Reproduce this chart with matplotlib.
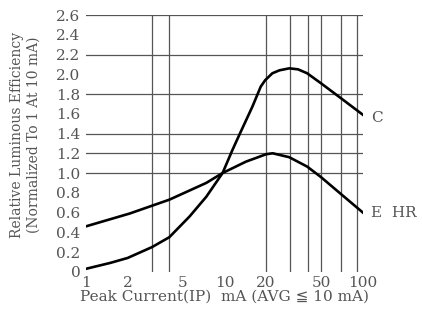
import matplotlib
matplotlib.use("Agg")
import matplotlib.pyplot as plt

# readings
c_x = [1, 1.5, 2, 3, 4, 5.6, 7.4, 9.7, 11.4, 12.8, 15.9, 18.3, 19.7, 22.2, 25, 29.4, 34, 39.6, 49.7, 69.1, 100]
c_y = [0.03, 0.09, 0.14, 0.25, 0.35, 0.56, 0.76, 1.0, 1.23, 1.385, 1.67, 1.875, 1.94, 2.01, 2.04, 2.06, 2.05, 2.01, 1.91, 1.76, 1.59]

hr_x = [1, 2.07, 4, 7.4, 9.7, 14.3, 20, 22.3, 29.4, 39.6, 49.7, 69.1, 100]
hr_y = [0.46, 0.59, 0.73, 0.90, 1.0, 1.115, 1.19, 1.2, 1.16, 1.065, 0.96, 0.79, 0.60]

x_ticks = [1, 2, 5, 10, 20, 50, 100]
y_ticks = [0, 0.2, 0.4, 0.6, 0.8, 1.0, 1.2, 1.4, 1.6, 1.8, 2.0, 2.2, 2.4, 2.6]
h_grid = [1.0, 1.2, 1.4, 1.8, 2.2, 2.6]
v_grid = [3, 4, 20, 30, 40, 50, 70, 90]

txt = "#555555"
grid = "#555555"
plt.rcParams['font.family'] = ['DejaVu Serif', 'DejaVu Sans']

fig = plt.figure(figsize=(4.22, 3.14), dpi=100)
ax = fig.add_axes([0.2038, 0.1345, 0.656, 0.8177])

for v in h_grid:
    ax.axhline(v, color=grid, lw=0.9, zorder=1)
for v in v_grid:
    ax.axvline(v, color=grid, lw=0.9, zorder=1)

ax.plot(c_x, c_y, color="black", lw=1.9, zorder=3)
ax.plot(hr_x, hr_y, color="black", lw=1.9, zorder=3)

ax.set_xscale("log")
ax.set_xlim(1, 100)
ax.set_ylim(0, 2.6)
ax.set_xticks(x_ticks)
ax.set_xticklabels([str(t) for t in x_ticks])
ax.minorticks_off()
ax.set_yticks(y_ticks)
ax.set_yticklabels(["0"] + [f"{t:.1f}" for t in y_ticks[1:]])
ax.tick_params(length=0, labelsize=11, labelcolor=txt)
ax.tick_params(axis="y", pad=4)
ax.tick_params(axis="x", pad=3)
for s in ax.spines.values():
    s.set_visible(False)

ax.text(114, 1.56, "C", fontsize=11, color=txt, va="center", ha="left", clip_on=False)
ax.text(114, 0.60, "E  HR", fontsize=11, color=txt, va="center", ha="left", clip_on=False)

ax.set_xlabel("Peak Current(IP)  mA (AVG \u2266 10 mA)", fontsize=11, color=txt, labelpad=0)
fig.text(0.06, 0.57, "Relative Luminous Efficiency\n(Normalized To 1 At 10 mA)",
         rotation=90, fontsize=10, color=txt, ha="center", va="center", linespacing=1.25)

fig.savefig("out.png", dpi=100)
